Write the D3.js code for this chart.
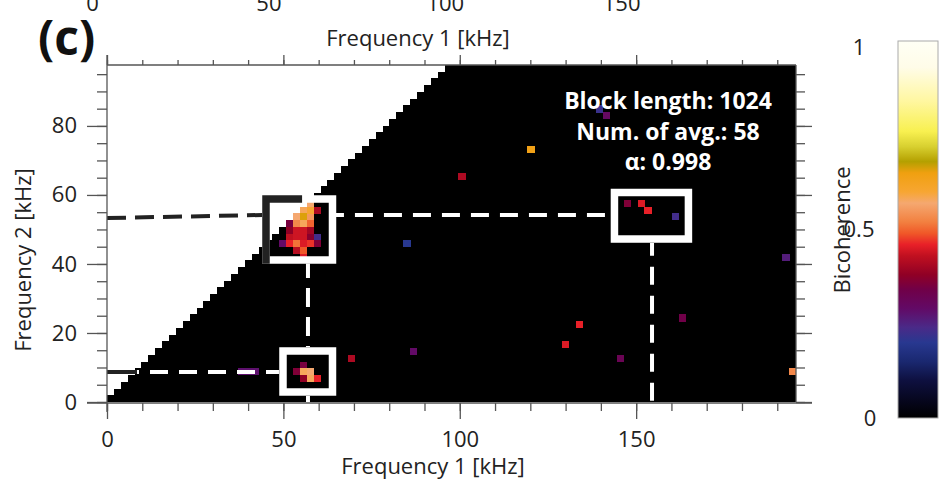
<!DOCTYPE html>
<html>
<head>
<meta charset="utf-8">
<script src="https://cdn.jsdelivr.net/npm/d3@7"></script>
<style>
  html, body { margin: 0; padding: 0; background: #fff; }
  svg { display: block; font-family: "Open Sans", "Noto Sans", sans-serif; }
</style>
</head>
<body>
<svg id="chart" width="940" height="482"></svg>
<script>
// Bispectrum settings
const sampleRateKHz = 2000;
const blockLength = 1024;
const numAverages = 58;
const alphaLevel = 0.998;
const nBinsF1 = 100;
const nBinsF2 = 50;

// Significant bicoherence cells: f1 bin, f2 bin, value
const cellF1Bin = [29, 28, 29, 30, 27, 28, 29, 26, 27, 28, 29, 26, 27, 28, 29, 26, 27, 28, 29, 30,
                   25, 26, 27, 28, 29, 30, 27, 28, 28,
                   28, 27, 28, 29, 28, 29, 30,
                   75, 77, 78, 82,
                   51, 61, 72, 71, 43, 35, 44, 68, 66, 74, 83, 98, 99, 19, 20, 21];
const cellF2Bin = [29, 28, 28, 28, 27, 27, 27, 26, 26, 26, 26, 25, 25, 25, 25, 24, 24, 24, 24, 24,
                   23, 23, 23, 23, 23, 23, 22, 22, 21,
                   5, 4, 4, 4, 3, 3, 3,
                   29, 29, 28, 27,
                   33, 37, 42, 43, 23, 6, 7, 11, 8, 6, 12, 21, 4, 4, 4, 4];
const cellValue = [0.57, 0.58, 0.60, 0.41, 0.57, 0.66, 0.55, 0.35, 0.53, 0.58, 0.50, 0.38, 0.44, 0.44, 0.40, 0.43, 0.44, 0.44, 0.37, 0.23,
                   0.29, 0.46, 0.51, 0.45, 0.47, 0.36, 0.42, 0.49, 0.45,
                   0.35, 0.36, 0.58, 0.57, 0.38, 0.58, 0.46,
                   0.36, 0.45, 0.46, 0.23,
                   0.41, 0.64, 0.30, 0.22, 0.20, 0.41, 0.29, 0.46, 0.45, 0.32, 0.34, 0.26, 0.53, 0.28, 0.28, 0.28];

// Tick labels
const f1MajorTicks = [0, 50, 100, 150];
const f2MajorTicks = [0, 20, 40, 60, 80];
const colorbarTicks = [0, 0.5, 1];

// Colour table
const cmapStops  = [0, 0.05, 0.10, 0.15, 0.20, 0.24, 0.29, 0.34, 0.38, 0.43, 0.46, 0.49, 0.52, 0.57, 0.60, 0.65, 0.68, 0.72, 0.76, 0.84, 0.93, 1];
const cmapColors = ["#000000", "#070720", "#0e1040", "#1a2870", "#283890", "#4a2a88", "#620a66", "#700048", "#900025", "#c01020",
                    "#e82028", "#f05828", "#f28040", "#f5a870", "#f7a632", "#f0a010", "#b4a000", "#d8d030", "#f8f050", "#fff7a0", "#fffce8", "#fffff5"];

// Highlighted regions (kHz) and connecting guide lines (kHz)
const boxF1 = [[45.07, 63.92], [49.89, 63.92], [143.85, 164.82]];
const boxF2 = [[41.15, 58.82], [2.90, 14.78], [47.23, 60.71]];
const guideF1 = [[0, 44.07], [64.9, 142.86], [56.97, 56.97], [56.97, 56.97], [154.5, 154.5], [0, 48.75], [0, 8.5]];
const guideF2 = [[53.32, 54.19], [54.19, 54.19], [40.13, 15.94], [1.74, 0], [46.07, 0], [8.69, 8.69], [8.69, 8.69]];
const guideColor = ["#222", "#fff", "#fff", "#fff", "#fff", "#fff", "#222"];

const annotationLines = [
  "Block length: " + blockLength,
  "Num. of avg.: " + numAverages,
  "\u03b1: " + alphaLevel
];

// ---- scales ----
const df = sampleRateKHz / blockLength;
const f1Max = nBinsF1 * df, f2Max = nBinsF2 * df;
const x = d3.scaleLinear().domain([0, f1Max]).range([107, 796]);
const y = d3.scaleLinear().domain([0, f2Max]).range([402, 65]);
const color = d3.scaleLinear().domain(cmapStops).range(cmapColors).interpolate(d3.interpolateRgb).clamp(true);
const cb = d3.scaleLinear().domain([0, 1]).range([418, 41]);

const svg = d3.select("#chart");
const textColor = "#222";
const axisColor = "#555";

// ---- bicoherence grid (only f2 <= f1 is defined) ----
const sig = new Map();
cellF1Bin.forEach((b, k) => sig.set(b + "," + cellF2Bin[k], cellValue[k]));
const cells = [];
for (let i = 0; i < nBinsF1; i++) {
  for (let j = 0; j <= Math.min(i, nBinsF2 - 1); j++) {
    const v = sig.get(i + "," + j);
    cells.push({ i, j, v: v === undefined ? 0 : v });
  }
}
cells.sort((a, b) => a.v - b.v);

svg.append("g")
  .attr("shape-rendering", "crispEdges")
  .selectAll("rect")
  .data(cells)
  .join("rect")
  .attr("x", d => x(d.i * df))
  .attr("y", d => y((d.j + 1) * df))
  .attr("width", d => Math.min(x((d.i + 1) * df) + 0.4, x(f1Max)) - x(d.i * df))
  .attr("height", d => y(d.j * df) - y((d.j + 1) * df) + 0.4)
  .attr("fill", d => color(d.v));

// ---- guide lines and boxes ----
const dashFor = [ {a: "19,9", o: 0}, {a: "18,11", o: 10}, {a: "19,10", o: 4.5}, {a: null, o: 0},
                  {a: "18,11", o: 5.3}, {a: "18,11", o: 15}, {a: null, o: 0} ];
const guides = guideF1.map((f, k) => ({ f1: f, f2: guideF2[k], c: guideColor[k], d: dashFor[k] }));
svg.append("g").selectAll("line")
  .data(guides)
  .join("line")
  .attr("x1", d => x(d.f1[0])).attr("x2", d => x(d.f1[1]))
  .attr("y1", d => y(d.f2[0])).attr("y2", d => y(d.f2[1]))
  .attr("stroke", d => d.c)
  .attr("stroke-width", 4)
  .attr("stroke-dasharray", d => d.d.a)
  .attr("stroke-dashoffset", d => d.d.o);

const boxes = boxF1.map((f, k) => ({ f1: f, f2: boxF2[k] }));
svg.append("g").selectAll("rect")
  .data(boxes)
  .join("rect")
  .attr("x", d => x(d.f1[0]))
  .attr("y", d => y(d.f2[1]))
  .attr("width", d => x(d.f1[1]) - x(d.f1[0]))
  .attr("height", d => y(d.f2[0]) - y(d.f2[1]))
  .attr("fill", "none")
  .attr("stroke", "#fff")
  .attr("stroke-width", 7.5);

// dark bracket on the first box where it sits over the undefined region
const b0 = boxes[0];
svg.append("path")
  .attr("d", d3.line()([
    [x(b0.f1[0]), y(b0.f2[0]) + 3.75],
    [x(b0.f1[0]), y(b0.f2[1])],
    [x(55.3), y(b0.f2[1])]
  ]))
  .attr("fill", "none")
  .attr("stroke", "#222")
  .attr("stroke-width", 7.5)
  .attr("stroke-linejoin", "miter");

// ---- annotation ----
svg.append("g")
  .attr("font-weight", 700)
  .attr("font-size", 23)
  .attr("fill", "#fff")
  .attr("text-anchor", "middle")
  .selectAll("text")
  .data(annotationLines)
  .join("text")
  .attr("x", 668)
  .attr("y", (d, k) => 109 + k * 30.5)
  .text(d => d);

// ---- axes ----
function styleAxis(g) {
  g.select(".domain").remove();
  g.selectAll(".tick line").attr("stroke", axisColor).attr("stroke-width", 1.3);
  g.selectAll(".tick text").attr("fill", textColor).attr("font-size", 22).attr("font-family", "Open Sans, sans-serif");
}
const f1Minor = d3.range(0, 191, 10);
const f2Minor = d3.range(0, 96, 5);

// bottom
svg.append("g").attr("transform", "translate(0,403)")
  .call(d3.axisBottom(x).tickValues(f1Minor).tickSize(8).tickFormat("")).call(styleAxis);
svg.append("g").attr("transform", "translate(0,403)")
  .call(d3.axisBottom(x).tickValues(f1MajorTicks).tickSize(16).tickPadding(12).tickFormat(d3.format("d"))).call(styleAxis);
// top
svg.append("g").attr("transform", "translate(0,65)")
  .call(d3.axisTop(x).tickValues(f1Minor).tickSize(5).tickFormat("")).call(styleAxis);
svg.append("g").attr("transform", "translate(0,65)")
  .call(d3.axisTop(x).tickValues(f1MajorTicks).tickSize(10).tickPadding(44).tickFormat(d3.format("d"))).call(styleAxis)
  .call(g => g.selectAll(".tick text").attr("x", -15));
// left
svg.append("g").attr("transform", "translate(107,0)")
  .call(d3.axisLeft(y).tickValues(f2Minor).tickSize(10).tickFormat("")).call(styleAxis);
svg.append("g").attr("transform", "translate(107,0)")
  .call(d3.axisLeft(y).tickValues(f2MajorTicks).tickSize(20).tickPadding(10).tickFormat(d3.format("d"))).call(styleAxis);
// right
svg.append("g").attr("transform", "translate(796,0)")
  .call(d3.axisRight(y).tickValues(f2Minor).tickSize(9).tickFormat("")).call(styleAxis);
svg.append("g").attr("transform", "translate(796,0)")
  .call(d3.axisRight(y).tickValues(f2MajorTicks).tickSize(16).tickFormat("")).call(styleAxis);

// frame lines
const frame = svg.append("g").attr("stroke", axisColor).attr("stroke-width", 1.3);
frame.append("line").attr("x1", x(0)).attr("x2", x(0)).attr("y1", y(f2Max) - 10).attr("y2", y(0) + 10);
frame.append("line").attr("x1", x(0) - 20).attr("x2", x(f1Max) + 16).attr("y1", 403).attr("y2", 403);
frame.append("line").attr("x1", x(0)).attr("x2", x(f1Max)).attr("y1", y(f2Max)).attr("y2", y(f2Max));
frame.append("line").attr("x1", x(f1Max)).attr("x2", x(f1Max)).attr("y1", y(f2Max)).attr("y2", y(0));

// axis titles
svg.append("text").attr("x", 433).attr("y", 474).attr("text-anchor", "middle")
  .attr("font-size", 22).attr("fill", textColor).text("Frequency 1 [kHz]");
svg.append("text").attr("x", 418).attr("y", 46).attr("text-anchor", "middle")
  .attr("font-size", 22).attr("fill", textColor).text("Frequency 1 [kHz]");
svg.append("text").attr("transform", "translate(31,260) rotate(-90)").attr("text-anchor", "middle")
  .attr("font-size", 22).attr("fill", textColor).text("Frequency 2 [kHz]");
svg.append("text").attr("x", 38).attr("y", 55)
  .attr("font-size", 48).attr("font-weight", 700).attr("fill", "#111").text("(c)");

// ---- colour bar ----
const grad = svg.append("defs").append("linearGradient")
  .attr("id", "cbar").attr("x1", 0).attr("y1", 1).attr("x2", 0).attr("y2", 0);
grad.selectAll("stop").data(cmapStops).join("stop")
  .attr("offset", d => d)
  .attr("stop-color", (d, k) => cmapColors[k]);
svg.append("rect")
  .attr("x", 898).attr("y", cb(1)).attr("width", 40).attr("height", cb(0) - cb(1))
  .attr("fill", "url(#cbar)").attr("stroke", "#aaa").attr("stroke-width", 1);
svg.append("g").selectAll("text").data(colorbarTicks).join("text")
  .attr("x", d => d === 0 ? 870 : 859)
  .attr("y", d => cb(d) + (d === 1 ? 6 : 0)).attr("dy", "0.35em")
  .attr("text-anchor", "middle").attr("font-size", 22).attr("fill", textColor)
  .text(d => d3.format("")(d));
svg.append("text").attr("transform", "translate(850,230) rotate(-90)").attr("text-anchor", "middle")
  .attr("font-size", 22).attr("fill", textColor).text("Bicoherence");
</script>
</body>
</html>
